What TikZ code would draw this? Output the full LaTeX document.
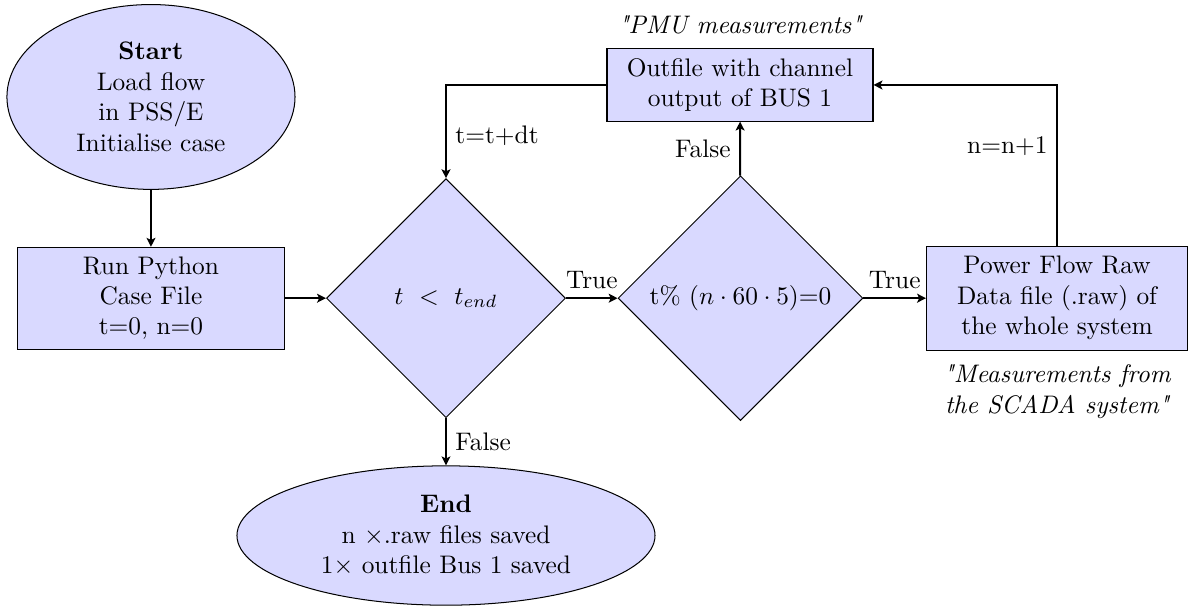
\documentclass[tikz,border=0pt]{standalone}
\usepackage{amsmath}
\usepackage{amssymb}
\usepackage{fontspec}
\usepackage{tikz}
\usetikzlibrary{arrows.meta, positioning, shapes.geometric}

\begin{document}
\begin{tikzpicture}[
		blk/.style={draw, fill=blue!15, align=center, inner sep=0pt},
		terminal/.style={blk, ellipse},
		process/.style={blk, rectangle},
		decision/.style={blk, diamond},
		flow/.style={-{Stealth[length=3.5pt, width=3.5pt, inset=0.8pt]}, thick},
		note/.style={align=center, font=\itshape}]
		\useasboundingbox (0,0) rectangle (16.454,-8.393);
		% Blocks:
		\node[terminal, minimum width=3.99cm, minimum height=2.56cm](Start) at (2.091,-1.343){\textbf{Start}\\Load flow\\in PSS/E\\Initialise case};
		\node[process, minimum width=3.70cm, minimum height=1.41cm](Run) at (2.091,-4.13){Run Python\\Case File\\t=0, n=0};
		\node[decision, minimum width=3.31cm, minimum height=3.31cm](Cond1) at (6.177,-4.13){$t\ <\ t_{end}$};
		\node[decision, minimum width=3.39cm, minimum height=3.39cm](Cond2) at (10.256,-4.13){t\% $(n\cdot 60\cdot 5)$=0};
		\node[process, minimum width=3.615cm, minimum height=1.44cm](Raw) at (14.64,-4.13){Power Flow Raw\\Data file (.raw) of\\the whole system};
		\node[process, minimum width=3.684cm, minimum height=1.00cm](Out) at (10.249,-1.177){Outfile with channel\\output of BUS 1};
		\node[terminal, minimum width=5.79cm, minimum height=1.93cm](End) at (6.177,-7.417){\textbf{End}\\n $\times$.raw files saved\\1$\times$ outfile Bus 1 saved};
		% Notes:
		\node[note, above=2pt of Out](PMU){\textquotedbl PMU measurements\textquotedbl};
		\node[note, below=2pt of Raw](SCADA){\textquotedbl Measurements from\\the SCADA system\textquotedbl};
		% Connectors:
		\draw[flow] (Start) -- (Run);
		\draw[flow] (Run) -- (Cond1);
		\draw[flow] (Cond1) -- node[above]{True} (Cond2);
		\draw[flow] (Cond2) -- node[above]{True} (Raw);
		\draw[flow] (Cond2) -- node[left]{False} (Out);
		\draw[flow] (Cond1) -- node[right]{False} (End);
		\draw[flow] (Out.west) -| node[pos=0.77, right]{t=t+dt} (Cond1.north);
		\draw[flow] (Raw.north) |- node[pos=0.31, left]{n=n+1} (Out.east);
	\end{tikzpicture}
\end{document}
